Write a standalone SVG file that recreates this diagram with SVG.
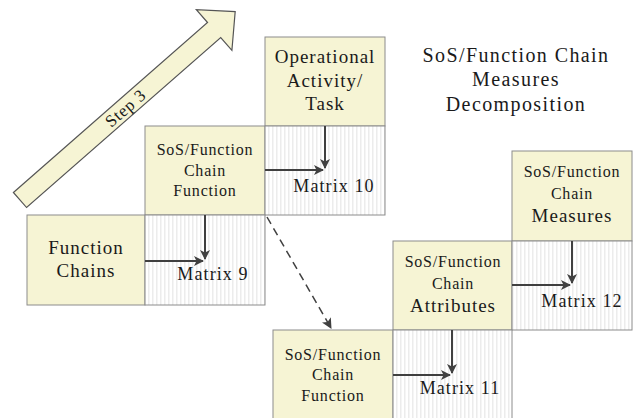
<svg xmlns="http://www.w3.org/2000/svg" width="638" height="418" viewBox="0 0 638 418">
<defs>
  <pattern id="stripes" width="4" height="10" patternUnits="userSpaceOnUse">
    <rect width="4" height="10" fill="#ffffff"/>
    <rect width="1.5" height="10" fill="#ececec"/>
  </pattern>
  <marker id="ah" viewBox="0 0 10 10" refX="9" refY="5" markerWidth="5" markerHeight="5" orient="auto" markerUnits="strokeWidth">
    <path d="M0,0 L10,5 L0,10 L2.5,5 Z" fill="#404040"/>
  </marker>
  <marker id="ahd" viewBox="0 0 10 10" refX="9" refY="5" markerWidth="7" markerHeight="7" orient="auto" markerUnits="strokeWidth">
    <path d="M0,0 L10,5 L0,10 L2.5,5 Z" fill="#404040"/>
  </marker>
</defs>
<style>
  .box { fill: #f6f4d4; stroke: #8c8c8c; stroke-width: 1; }
  .mat { fill: url(#stripes); stroke: #8c8c8c; stroke-width: 1; }
  .t { fill: #1a1a1a; text-anchor: middle; }
  .s { font-size: 16px; letter-spacing: 0.8px; }
  .m { font-size: 19px; letter-spacing: 1px; }
  .mx { font-size: 18px; letter-spacing: 1.1px; }
  .ttl { font-size: 20px; letter-spacing: 1.4px; }
  .conn { stroke: #404040; stroke-width: 2; fill: none; }
  .dash { stroke: #404040; stroke-width: 1.5; fill: none; stroke-dasharray: 8 5; }
</style>

<g font-family="'Liberation Serif', 'DejaVu Serif', serif">
<g id="step3">
  <g transform="translate(20,200) rotate(-41.2)">
    <polygon points="0,-10 258,-10 258,-27 286,0 258,27 258,10 0,10" fill="#f6f4d4" stroke="#555555" stroke-width="1.2"/>
    <text class="t" x="140" y="6" font-size="17" letter-spacing="0.8">Step 3</text>
  </g>
</g>

<g id="title">
  <text class="t ttl" x="516" y="62">SoS/Function Chain</text>
  <text class="t ttl" x="516" y="86">Measures</text>
  <text class="t ttl" x="516" y="111">Decomposition</text>
</g>

<g id="op-activity">
  <rect class="box" x="265" y="37" width="120" height="89"/>
  <text class="t m" x="325" y="63">Operational</text>
  <text class="t m" x="325" y="87">Activity/</text>
  <text class="t m" x="325" y="110">Task</text>
</g>

<g id="sos-function-upper">
  <rect class="box" x="145" y="126" width="120" height="89"/>
  <text class="t s" x="205" y="155">SoS/Function</text>
  <text class="t s" x="205" y="176">Chain</text>
  <text class="t s" x="205" y="196">Function</text>
</g>

<g id="matrix10">
  <rect class="mat" x="265" y="126" width="120" height="89"/>
  <text class="t mx" x="334" y="192">Matrix 10</text>
</g>

<g id="function-chains">
  <rect class="box" x="27" y="215" width="118" height="90"/>
  <text class="t m" x="86" y="254">Function</text>
  <text class="t m" x="86" y="277">Chains</text>
</g>

<g id="matrix9">
  <rect class="mat" x="145" y="215" width="120" height="90"/>
  <text class="t mx" x="213" y="280">Matrix 9</text>
</g>

<g id="sos-measures">
  <rect class="box" x="512" y="151" width="120" height="90"/>
  <text class="t s" x="572" y="177">SoS/Function</text>
  <text class="t s" x="572" y="199">Chain</text>
  <text class="t m" x="572" y="222">Measures</text>
</g>

<g id="sos-attributes">
  <rect class="box" x="393" y="241" width="119" height="89"/>
  <text class="t s" x="453" y="267">SoS/Function</text>
  <text class="t s" x="453" y="289">Chain</text>
  <text class="t m" x="453" y="312">Attributes</text>
</g>

<g id="matrix12">
  <rect class="mat" x="512" y="241" width="120" height="89"/>
  <text class="t mx" x="582" y="307">Matrix 12</text>
</g>

<g id="sos-function-lower">
  <rect class="box" x="273" y="330" width="120" height="92"/>
  <text class="t s" x="333" y="360">SoS/Function</text>
  <text class="t s" x="333" y="380">Chain</text>
  <text class="t s" x="333" y="401">Function</text>
</g>

<g id="matrix11">
  <rect class="mat" x="393" y="330" width="119" height="92"/>
  <text class="t mx" x="460" y="394">Matrix 11</text>
</g>
</g>

<g id="connectors">
  <line class="conn" x1="325" y1="126" x2="325" y2="168" marker-end="url(#ah)"/>
  <line class="conn" x1="265" y1="170" x2="323" y2="170" marker-end="url(#ah)"/>
  <line class="conn" x1="205" y1="215" x2="205" y2="259" marker-end="url(#ah)"/>
  <line class="conn" x1="145" y1="261" x2="203" y2="261" marker-end="url(#ah)"/>
  <line class="conn" x1="572" y1="241" x2="572" y2="283" marker-end="url(#ah)"/>
  <line class="conn" x1="512" y1="285" x2="570" y2="285" marker-end="url(#ah)"/>
  <line class="conn" x1="452" y1="330" x2="452" y2="373" marker-end="url(#ah)"/>
  <line class="conn" x1="393" y1="375" x2="450" y2="375" marker-end="url(#ah)"/>
  <line class="dash" x1="267" y1="217" x2="331" y2="328" marker-end="url(#ahd)"/>
</g>
</svg>
